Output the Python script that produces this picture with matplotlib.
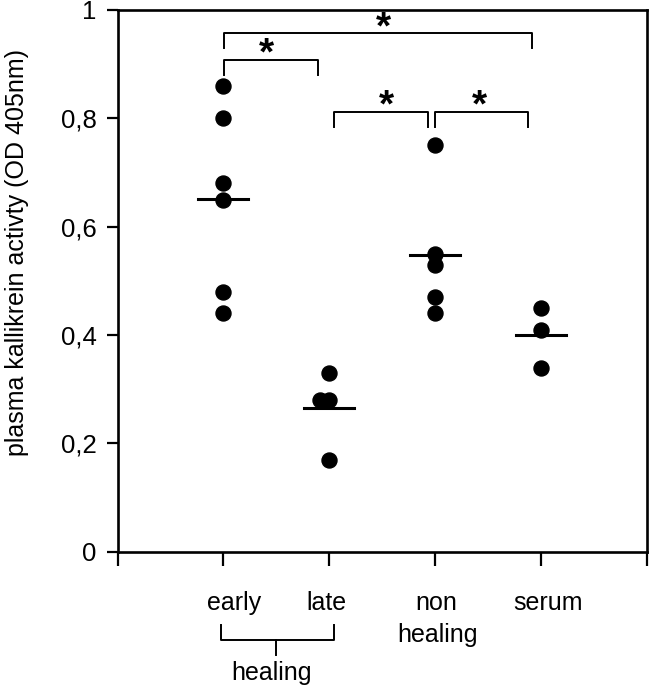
import numpy as np
import matplotlib
matplotlib.use('Agg')
import matplotlib.pyplot as plt

plt.rcParams['font.family'] = ['Liberation Sans', 'DejaVu Sans']

################################################################################################################
# Data
################################################################################################################
groups = ['early', 'late', 'non\nhealing', 'serum']
early = [0.86, 0.80, 0.68, 0.65, 0.48, 0.44]
late = [0.33, 0.28, 0.28, 0.17]
non_healing = [0.75, 0.55, 0.53, 0.47, 0.44]
serum = [0.45, 0.41, 0.34]
values = [early, late, non_healing, serum]

# small horizontal offsets for overlapping dots
offsets = [[0, 0, 0, 0, 0, 0], [0, -0.09, 0, 0], [0, 0, 0, 0, 0], [0, 0, 0]]

y_ticks = [0, 0.2, 0.4, 0.6, 0.8, 1]
y_tick_labels = ['0', '0,2', '0,4', '0,6', '0,8', '1']

# significance brackets: x left, x right, y of bar, star x
brackets = [(1.01, 3.92, 0.957, 2.51), (1.01, 1.89, 0.908, 1.41),
            (2.045, 2.93, 0.812, 2.54), (3.0, 3.88, 0.812, 3.415)]

################################################################################################################
# Plot
################################################################################################################
fig = plt.figure(figsize=(6.5, 6.89), dpi=100)
ax = fig.add_axes([0.1808, 0.1993, 0.8143, 0.7862])

for i, vals in enumerate(values):
    xs = np.full(len(vals), i + 1.0) + np.array(offsets[i])
    ax.plot(xs, vals, 'o', color='black', markersize=10.8, clip_on=False)
    m = np.mean(vals)
    ax.plot([i + 1 - 0.236, i + 1 + 0.236], [m, m], color='black', lw=2.2)

for x0, x1, yb, xs in brackets:
    ax.plot([x0, x0, x1, x1], [yb - 0.028, yb, yb, yb - 0.028], color='black', lw=1.4,
            clip_on=False)
    ax.text(xs, yb - 0.024, '*', fontsize=28, fontweight='bold', ha='center', va='bottom')

ax.set_xlim(0, 5)
ax.set_ylim(0, 1)
ax.set_xticks([0, 1, 2, 3, 4, 5])
ax.set_xticklabels([])
ax.set_yticks(y_ticks)
ax.set_yticklabels(y_tick_labels, fontsize=18.5)
ax.tick_params(axis='y', direction='out', length=8, width=1.6, pad=7)
ax.tick_params(axis='x', direction='out', length=10, width=1.6)
for s in ax.spines.values():
    s.set_linewidth(1.9)

ax.set_ylabel('plasma kallikrein activty (OD 405nm)', fontsize=18)
ax.yaxis.set_label_coords(-0.168, 0.552)

# category labels under the axis
label_x = [1.10, 1.976, 3.015, 4.067]
for lx, g in zip(label_x, groups):
    ax.text(lx, -0.1076, g.split('\n')[0], fontsize=18, ha='center', va='baseline', clip_on=False)
    if '\n' in g:
        ax.text(lx + 0.01, -0.166, g.split('\n')[1], fontsize=18, ha='center', va='baseline',
                clip_on=False)

# healing bracket
ax.plot([0.975, 0.975, 2.045, 2.045], [-0.135, -0.163, -0.163, -0.135], color='black', lw=1.4,
        clip_on=False)
ax.plot([1.497, 1.497], [-0.163, -0.191], color='black', lw=1.4, clip_on=False)
ax.text(1.457, -0.237, 'healing', fontsize=18, ha='center', va='baseline', clip_on=False)

plt.savefig('out.png', dpi=100)
